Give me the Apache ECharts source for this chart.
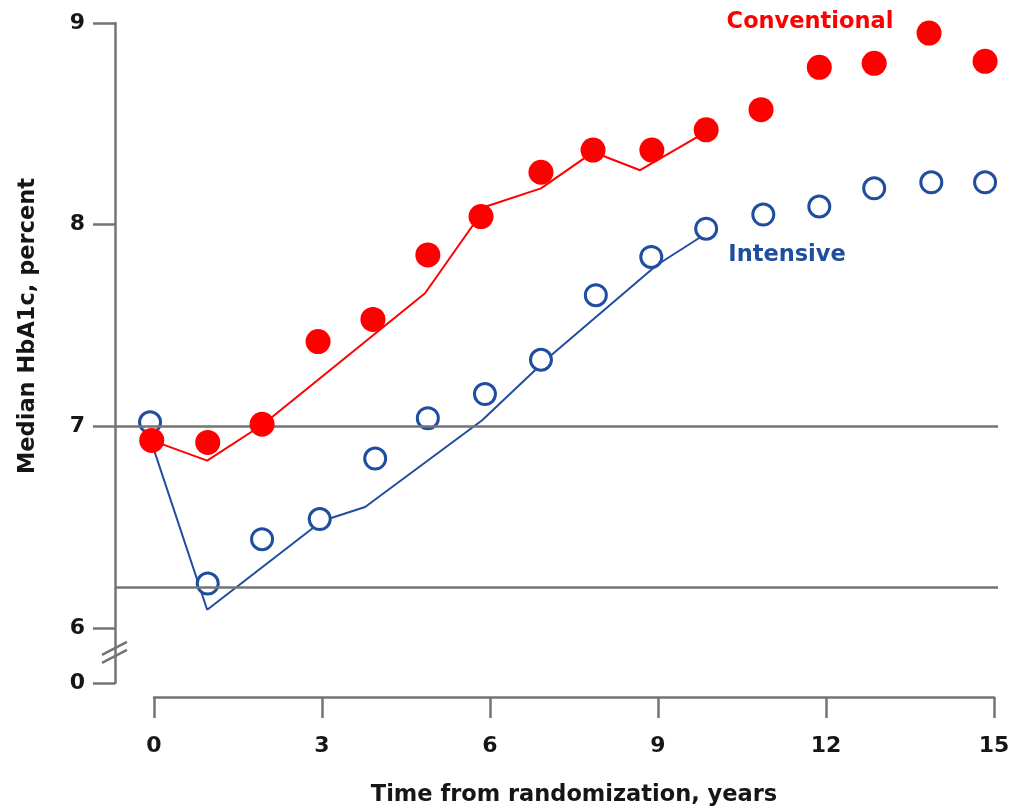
<!DOCTYPE html>
<html>
<head>
<meta charset="utf-8">
<script src="https://cdn.jsdelivr.net/npm/echarts@6/dist/echarts.min.js"></script>
<style>
html,body{margin:0;padding:0;background:#fff;}
#chart{width:1018px;height:809px;}
</style>
</head>
<body>
<div id="chart"></div>
<script>
// ---- data ----
const xTicks = [0, 3, 6, 9, 12, 15];
const yTicks = [6, 7, 8, 9];
const yBreakLabel = '0';
const yBreakValue = 5.727;          // position of the "0" label below the axis break
const refLines = [7.0, 6.2];

const convX = [-0.04, 0.96, 1.93, 2.93, 3.91, 4.89, 5.84, 6.91, 7.84, 8.89, 9.86, 10.84, 11.88, 12.86, 13.84, 14.84];
const convY = [6.93, 6.92, 7.01, 7.42, 7.53, 7.85, 8.04, 8.26, 8.37, 8.37, 8.47, 8.57, 8.78, 8.80, 8.95, 8.81];

const intX = [-0.07, 0.96, 1.93, 2.96, 3.95, 4.89, 5.91, 6.91, 7.89, 8.88, 9.86, 10.88, 11.88, 12.86, 13.88, 14.84];
const intY = [7.02, 6.22, 6.44, 6.54, 6.84, 7.04, 7.16, 7.33, 7.65, 7.84, 7.98, 8.05, 8.09, 8.18, 8.21, 8.21];

const convLineX = [-0.04, 0.95, 1.95, 4.84, 5.93, 6.91, 7.84, 8.68, 9.86];
const convLineY = [6.93, 6.83, 7.01, 7.66, 8.09, 8.18, 8.36, 8.27, 8.46];

const intLineX = [-0.08, 0.95, 3.0, 3.77, 5.86, 7.04, 8.98, 9.77];
const intLineY = [6.95, 6.09, 6.53, 6.60, 7.03, 7.34, 7.80, 7.94];

const seriesNames = ['Conventional', 'Intensive'];
const xTitle = 'Time from randomization, years';
const yTitle = 'Median HbA1c, percent';

// ---- styling ----
const RED = '#ff0000';
const BLUE = '#1f4e9f';
const GRAY = '#747474';
const TXT = '#161616';
const FONT = '"DejaVu Sans", Verdana, sans-serif';
const FS = 22;
const FSN = 22.5;

const zip = (a, b) => a.map((v, i) => [v, b[i]]);

const chart = echarts.init(document.getElementById('chart'), null, {renderer: 'canvas'});

const option = {
  backgroundColor: '#ffffff',
  animation: false,
  grid: [
    {left: 115, right: 20, top: 23, bottom: 126, containLabel: false},
    {left: 154, right: 24, top: 696, height: 1, containLabel: false}
  ],
  xAxis: [
    {
      gridIndex: 0, type: 'value', min: -0.696, max: 15.071,
      axisLine: {show: false, onZero: false}, axisTick: {show: false}, axisLabel: {show: false}, splitLine: {show: false}
    },
    {
      gridIndex: 1, type: 'value', min: 0, max: 15, interval: 3, position: 'bottom',
      axisLine: {show: true, onZero: false, lineStyle: {color: GRAY, width: 2.5}},
      axisTick: {show: true, length: 21, inside: false, lineStyle: {color: GRAY, width: 2.5}},
      axisLabel: {show: true, margin: 38, color: TXT, fontFamily: FONT, fontWeight: 'bold', fontSize: FS,
                  customValues: xTicks},
      splitLine: {show: false},
      name: xTitle, nameLocation: 'middle', nameGap: 87,
      nameTextStyle: {color: TXT, fontFamily: FONT, fontWeight: 'bold', fontSize: FSN}
    }
  ],
  yAxis: [
    {
      gridIndex: 0, type: 'value', min: yBreakValue, max: 9, position: 'left',
      axisLine: {show: true, onZero: false, lineStyle: {color: GRAY, width: 2.5}},
      axisTick: {show: true, length: 22, inside: false, lineStyle: {color: GRAY, width: 2.5},
                 customValues: [yBreakValue].concat(yTicks)},
      axisLabel: {show: true, margin: 30, color: TXT, fontFamily: FONT, fontWeight: 'bold', fontSize: FS,
                  customValues: [yBreakValue].concat(yTicks),
                  formatter: v => (Math.abs(v - yBreakValue) < 1e-6 ? yBreakLabel : String(v))},
      splitLine: {show: false}
    },
    {
      gridIndex: 1, type: 'value', min: 0, max: 1, show: false
    }
  ],
  series: [
    {
      name: 'refs', type: 'line', xAxisIndex: 0, yAxisIndex: 0, data: [], silent: true,
      markLine: {
        silent: true, symbol: ['none', 'none'], label: {show: false},
        lineStyle: {color: GRAY, width: 2.5, type: 'solid'},
        data: refLines.map(v => ({yAxis: v}))
      }
    },
    {
      name: seriesNames[1] + ' line', type: 'line', xAxisIndex: 0, yAxisIndex: 0,
      data: zip(intLineX, intLineY), showSymbol: false, symbol: 'none',
      lineStyle: {color: BLUE, width: 2}, z: 3
    },
    {
      name: seriesNames[0] + ' line', type: 'line', xAxisIndex: 0, yAxisIndex: 0,
      data: zip(convLineX, convLineY), showSymbol: false, symbol: 'none',
      lineStyle: {color: RED, width: 2}, z: 3
    },
    {
      name: seriesNames[1], type: 'scatter', xAxisIndex: 0, yAxisIndex: 0,
      data: zip(intX, intY), symbol: 'circle', symbolSize: 21,
      itemStyle: {color: '#ffffff', borderColor: BLUE, borderWidth: 3, opacity: 1}, z: 4
    },
    {
      name: seriesNames[0], type: 'scatter', xAxisIndex: 0, yAxisIndex: 0,
      data: zip(convX, convY), symbol: 'circle', symbolSize: 25,
      itemStyle: {color: RED, opacity: 1}, z: 5
    }
  ]
};

chart.setOption(option);

// decorations: axis break marks, axis title, series labels
const yBreakMid = chart.convertToPixel({yAxisIndex: 0}, 5.879);
const axisX = chart.convertToPixel({xAxisIndex: 0}, -0.696);
chart.setOption({
  graphic: [
    {type: 'line', shape: {x1: axisX - 13, y1: yBreakMid + 2.5, x2: axisX + 12, y2: yBreakMid - 10.5},
     style: {stroke: GRAY, lineWidth: 2.5}, z: 10},
    {type: 'line', shape: {x1: axisX - 13, y1: yBreakMid + 10.5, x2: axisX + 12, y2: yBreakMid - 2.5},
     style: {stroke: GRAY, lineWidth: 2.5}, z: 10},
    {type: 'text', x: 28, y: 326, rotation: Math.PI / 2,
     style: {text: yTitle, fill: TXT, font: 'bold ' + FSN + 'px ' + FONT, align: 'center', verticalAlign: 'middle'}},
    {type: 'text', x: 810, y: 22,
     style: {text: seriesNames[0], fill: RED, font: 'bold ' + FSN + 'px ' + FONT, align: 'center', verticalAlign: 'middle'}},
    {type: 'text', x: 787, y: 255,
     style: {text: seriesNames[1], fill: BLUE, font: 'bold ' + FSN + 'px ' + FONT, align: 'center', verticalAlign: 'middle'}}
  ]
});
</script>
</body>
</html>
